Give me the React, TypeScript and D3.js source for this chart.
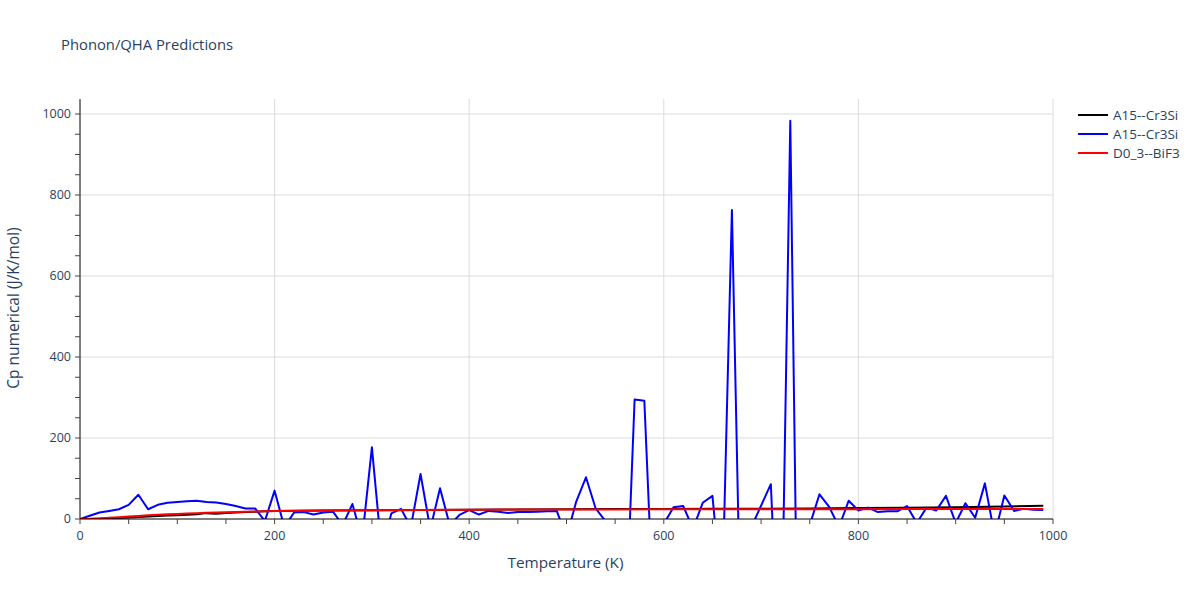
import React from 'react';
import * as d3 from 'd3';

const margin = { top: 99, right: 147, bottom: 81, left: 80 };
const width = 1200;
const height = 600;

// blue series, 10 K steps
const blueT = d3.range(0, 1000, 10);
const blueCp = [
  0, 8, 16, 20, 24, 35, 60, 24, 35, 40,
  42, 44, 45, 42, 41, 37, 32, 26, 26, -5,
  70, -20, 16, 17, 11, 16, 18, -15, 37, -50,
  177, -80, 14, 25, -20, 111, -25, 76, -15, 10,
  22, 11, 20, 18, 15, 17, 17, 18, 19, 20,
  -45, 43, 103, 26, -5, -50, -320, 295, 292, -270,
  -12, 29, 32, -24, 40, 57, -200, 763, -400, -20,
  33, 86, -450, 983, -800, -15, 61, 30, -20, 45,
  21, 28, 17, 19, 19, 32, -10, 28, 21, 57,
  -10, 39, 3, 88, -40, 58, 20, 25, 23, 22,
];

const smoothT = [
  0, 10, 20, 30, 40, 50, 60, 70, 80, 90, 100, 110, 120, 130, 140, 150, 160, 170, 180, 190,
  200, 250, 300, 350, 400, 450, 500, 550, 600, 650, 700, 750, 800, 850, 900, 950, 990,
];
const blackCp = [
  0, 0.2, 0.8, 1.6, 2.6, 3.8, 5, 6.2, 7.4, 8.4, 9.4, 10.6, 11.6, 14.5, 13.2, 14.6, 15.8, 17, 18, 19,
  20, 21, 21.8, 22.4, 23, 23.5, 24, 24.4, 24.8, 25.2, 25.6, 26.2, 27, 28, 29.2, 30.8, 32.5,
];
const redCp = [
  0, 0.4, 1.4, 2.8, 4.4, 6, 7.6, 9, 10.4, 11.6, 12.6, 13.6, 14.5, 15.3, 16, 16.8, 17.5, 18.2, 18.8, 19.3,
  19.8, 21, 21.8, 22.4, 22.9, 23.2, 23.5, 23.7, 23.9, 24, 24.1, 24.2, 24.3, 24.4, 24.5, 24.6, 24.6,
];

const seriesNames = ['A15--Cr3Si', 'A15--Cr3Si', 'D0_3--BiF3'];
const seriesColors = ['#000000', '#0000ff', '#ff0000'];

const xTicks = [0, 200, 400, 600, 800, 1000];
const yTicks = [0, 200, 400, 600, 800, 1000];

const font = '"Open Sans", verdana, arial, sans-serif';
const textColor = '#2a3f5f';

export default function App() {
  const pw = width - margin.left - margin.right;
  const ph = height - margin.top - margin.bottom;
  const x = d3.scaleLinear().domain([0, 1000]).range([0, pw]);
  const y = d3.scaleLinear().domain([0, 1037]).range([ph, 0]);

  const line = d3
    .line<[number, number]>()
    .x((d) => x(d[0]))
    .y((d) => y(d[1]));

  const series: [number, number][][] = [
    smoothT.map((t, i) => [t, blackCp[i]]),
    blueT.map((t, i) => [t, blueCp[i]]),
    smoothT.map((t, i) => [t, redCp[i]]),
  ];

  const minorX = d3.range(0, 1001, 50);
  const minorY = d3.range(0, 1001, 50);

  return (
    <svg
      width={width}
      height={height}
      style={{ position: 'absolute', left: 0, top: 0, background: '#fff', fontFamily: font }}
    >
      <defs>
        <clipPath id="plot-clip">
          <rect x={0} y={0} width={pw} height={ph} />
        </clipPath>
      </defs>
      <text x={61} y={50} fontSize={14.8} fill={textColor}>
        Phonon/QHA Predictions
      </text>
      <g transform={`translate(${margin.left},${margin.top})`}>
        {/* grid */}
        {xTicks.slice(1).map((t) => (
          <line key={'gx' + t} x1={x(t)} x2={x(t)} y1={0} y2={ph} stroke="#dcdcdc" />
        ))}
        {yTicks.slice(1).map((t) => (
          <line key={'gy' + t} x1={0} x2={pw} y1={y(t)} y2={y(t)} stroke="#dcdcdc" />
        ))}

        {/* series */}
        <g clipPath="url(#plot-clip)">
          {series.map((s, i) => (
            <path
              key={i}
              d={line(s) ?? ''}
              fill="none"
              stroke={seriesColors[i]}
              strokeWidth={2}
              strokeLinejoin="round"
            />
          ))}
        </g>

        {/* axes */}
        <line x1={0} x2={pw} y1={ph} y2={ph} stroke="#000" />
        <line x1={0} x2={0} y1={0} y2={ph} stroke="#000" />
        {minorX.map((t) => (
          <line key={'tx' + t} x1={x(t)} x2={x(t)} y1={ph} y2={ph + 5} stroke="#444" />
        ))}
        {minorY.map((t) => (
          <line key={'ty' + t} x1={-5} x2={0} y1={y(t)} y2={y(t)} stroke="#444" />
        ))}
        {xTicks.map((t) => (
          <text key={'lx' + t} x={x(t)} y={ph + 21} fontSize={12.5} fill={textColor} textAnchor="middle">
            {t}
          </text>
        ))}
        {yTicks.map((t) => (
          <text key={'ly' + t} x={-9} y={y(t)} dy="0.35em" fontSize={12.5} fill={textColor} textAnchor="end">
            {t}
          </text>
        ))}
        <text x={pw / 2 - 1} y={ph + 49} fontSize={15.3} fill={textColor} textAnchor="middle">
          Temperature (K)
        </text>
        <text
          transform={`translate(${-61},${ph / 2 - 1}) rotate(-90)`}
          fontSize={15.5}
          fill={textColor}
          textAnchor="middle"
        >
          Cp numerical (J/K/mol)
        </text>
      </g>

      {/* legend */}
      <g transform="translate(1078,115)">
        {seriesNames.map((n, i) => (
          <g key={i} transform={`translate(0,${i * 19})`}>
            <line x1={0} x2={30} y1={0} y2={0} stroke={seriesColors[i]} strokeWidth={2} />
            <text x={35} y={0} dy="0.35em" fontSize={13.5} fill={textColor}>
              {n}
            </text>
          </g>
        ))}
      </g>
    </svg>
  );
}
